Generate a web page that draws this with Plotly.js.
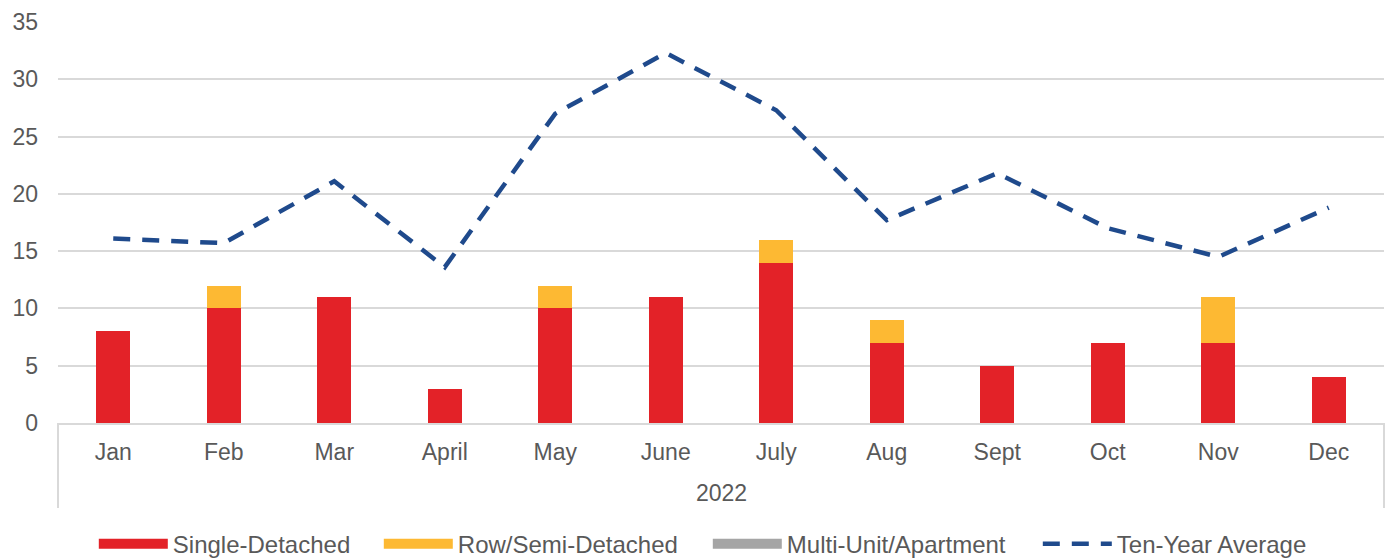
<!DOCTYPE html>
<html><head><meta charset="utf-8">
<script src="https://cdn.plot.ly/plotly-3.0.1.min.js"></script>
<style>html,body{margin:0;padding:0;background:#fff;} #chart{width:1397px;height:558px;}</style>
</head><body><div id="chart"></div>
<script>
const months = ['Jan','Feb','Mar','April','May','June','July','Aug','Sept','Oct','Nov','Dec'];
const yearLabel = '2022';
const singleDetached = [8,10,11,3,10,11,14,7,5,7,7,4];
const rowSemiDetached = [0,2,0,0,2,0,2,2,0,0,4,0];
const multiUnit = [0,0,0,0,0,0,0,0,0,0,0,0];
const tenYearAverage = [16.1,15.7,21.1,13.6,27.0,32.3,27.3,17.7,21.8,17.0,14.5,18.8];
const seriesNames = ['Single-Detached','Row/Semi-Detached','Multi-Unit/Apartment','Ten-Year Average'];
const seriesColors = ['#E32228','#FDB933','#A5A5A5','#1F4A8C'];

const FONT = 'Liberation Sans, Arial, sans-serif';
const TXT = '#595959';
const barSeries = [singleDetached, rowSemiDetached, multiUnit];
const legendWidths = [201, 245, 246, 200];

const traces = [];
barSeries.forEach((vals, i) => {
  traces.push({type:'bar', x: months, y: vals, name: seriesNames[i],
    marker:{color: seriesColors[i]}, showlegend:false, legendgroup:'g'+i, hoverinfo:'y'});
});
barSeries.forEach((vals, i) => {
  traces.push({type:'scatter', mode:'lines', x:[null], y:[null], name: seriesNames[i],
    line:{color: seriesColors[i], width:12}, legendgroup:'g'+i, legendwidth: legendWidths[i], hoverinfo:'skip'});
});
traces.push({type:'scatter', mode:'lines', x: months, y: tenYearAverage, name: seriesNames[3],
  legendgroup:'g3', legendwidth: legendWidths[3], line:{color: seriesColors[3], width:4.5, dash:'17px,12px'}});

const layout = {
  width:1397, height:558,
  margin:{l:58, r:13, t:22, b:135},
  paper_bgcolor:'#fff', plot_bgcolor:'#fff',
  font:{family:FONT, color:TXT, size:23},
  barmode:'stack', bargap:0.69,
  xaxis:{type:'category', showline:true, linecolor:'#D9D9D9', linewidth:2, ticks:'', automargin:false,
    showgrid:false, tickfont:{size:23, color:TXT}, ticklabelstandoff:7, fixedrange:true},
  yaxis:{range:[0,35], dtick:5, tick0:0, showgrid:true, gridcolor:'#D9D9D9', gridwidth:1.5, automargin:false,
    zeroline:false, showline:false, ticks:'', tickfont:{size:23, color:TXT}, ticklabelstandoff:19, fixedrange:true},
  legend:{orientation:'h', x:0.027, xanchor:'left', yref:'container', y:0.025, yanchor:'middle',
    font:{size:24, color:TXT}, itemwidth:69, traceorder:'grouped', bgcolor:'rgba(0,0,0,0)'},
  annotations:[{xref:'paper', yref:'paper', x:0.5, y:-0.1746, text:yearLabel, showarrow:false,
    xanchor:'center', yanchor:'middle', font:{size:23, color:TXT}}],
  shapes:[
    {type:'line', xref:'paper', yref:'paper', x0:0, x1:0, y0:0, y1:-0.212, line:{color:'#D9D9D9', width:2}},
    {type:'line', xref:'paper', yref:'paper', x0:1, x1:1, y0:0, y1:-0.212, line:{color:'#D9D9D9', width:2}}
  ]
};
Plotly.newPlot('chart', traces, layout, {displayModeBar:false, responsive:false});
</script></body></html>
